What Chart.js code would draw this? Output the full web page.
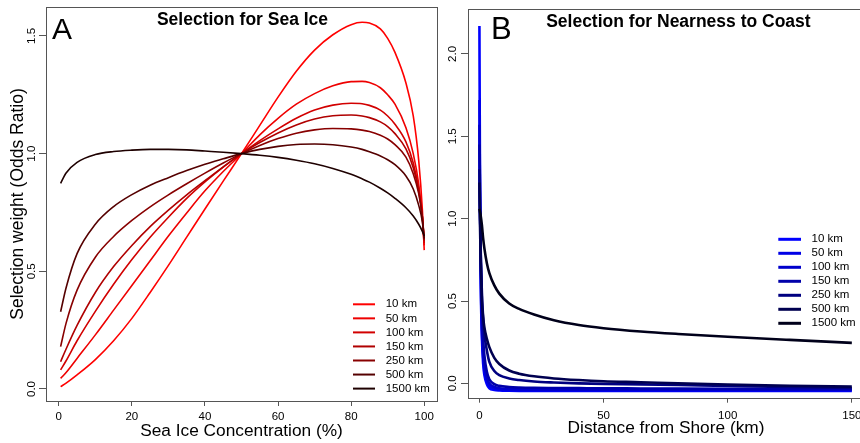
<!DOCTYPE html>
<html lang="en">

<head>
    <meta charset="UTF-8">
    <title>Selection for Sea Ice / Nearness to Coast</title>
    <script src="https://cdn.jsdelivr.net/npm/chart.js"></script>
    <style>
        html, body { margin: 0; padding: 0; background: #fff; overflow: hidden; }
        .painel { position: absolute; top: 0; height: 443px; }
        #painelA { left: 0; width: 440px; }
        #painelB { left: 440px; width: 430px; }
    </style>
</head>

<body>
    <div class="painel" id="painelA"><canvas id="gelo" width="440" height="443"></canvas></div>
    <div class="painel" id="painelB"><canvas id="costa" width="430" height="443"></canvas></div>
</body>

</html>
<script>
    // scales (legend labels), shared by both panels
    const escalas = ['10 km', '50 km', '100 km', '150 km', '250 km', '500 km', '1500 km'];
    const coresGelo = ['#ff0000', '#ee0000', '#d20000', '#b00000', '#880000', '#550000', '#1e0000'];
    const coresCosta = ['#0000ff', '#0000e6', '#0000cc', '#0000aa', '#000080', '#000050', '#00001a'];

    // panel A: sea ice concentration (%)
    const gelo = [0.5, 2, 5, 10, 15, 20, 25, 30, 35, 40, 45, 50, 55, 60, 65, 70, 75, 80, 83, 85, 88, 90, 92, 95, 97, 98.5, 99.5, 100];
    const gelo10 = [0.01, 0.025, 0.06, 0.125, 0.205, 0.3, 0.41, 0.525, 0.645, 0.765, 0.883, 1.0, 1.12, 1.24, 1.35, 1.44, 1.505, 1.548, 1.558, 1.555, 1.53, 1.49, 1.43, 1.3, 1.16, 0.97, 0.76, 0.59];
    const gelo50 = [0.045, 0.07, 0.13, 0.23, 0.335, 0.44, 0.545, 0.65, 0.748, 0.842, 0.924, 1.0, 1.08, 1.15, 1.21, 1.255, 1.288, 1.306, 1.307, 1.302, 1.28, 1.25, 1.21, 1.11, 1.0, 0.87, 0.72, 0.61];
    const gelo100 = [0.081, 0.12, 0.205, 0.33, 0.445, 0.55, 0.645, 0.73, 0.81, 0.88, 0.943, 1.0, 1.055, 1.105, 1.15, 1.185, 1.206, 1.214, 1.212, 1.205, 1.185, 1.16, 1.125, 1.05, 0.96, 0.85, 0.73, 0.62];
    const gelo150 = [0.116, 0.17, 0.27, 0.41, 0.52, 0.61, 0.69, 0.76, 0.825, 0.885, 0.944, 1.0, 1.047, 1.088, 1.122, 1.147, 1.161, 1.164, 1.16, 1.153, 1.135, 1.115, 1.085, 1.02, 0.94, 0.84, 0.73, 0.63];
    const gelo250 = [0.18, 0.28, 0.42, 0.56, 0.648, 0.716, 0.774, 0.825, 0.872, 0.917, 0.96, 1.0, 1.035, 1.064, 1.087, 1.101, 1.107, 1.105, 1.1, 1.094, 1.078, 1.062, 1.038, 0.985, 0.915, 0.83, 0.73, 0.635];
    const gelo500 = [0.328, 0.43, 0.575, 0.7, 0.775, 0.826, 0.866, 0.898, 0.928, 0.955, 0.978, 1.0, 1.018, 1.031, 1.039, 1.041, 1.038, 1.028, 1.018, 1.008, 0.99, 0.974, 0.953, 0.905, 0.85, 0.78, 0.71, 0.64];
    const gelo1500 = [0.874, 0.918, 0.963, 0.996, 1.009, 1.015, 1.018, 1.018, 1.016, 1.011, 1.006, 1.0, 0.993, 0.984, 0.972, 0.957, 0.937, 0.912, 0.893, 0.879, 0.853, 0.833, 0.81, 0.77, 0.735, 0.7, 0.67, 0.65];
    const ticksGeloX = [0, 20, 40, 60, 80, 100];
    const ticksGeloY = [0, 0.5, 1.0, 1.5];

    // panel B: distance from shore (km)
    const costa = [0, 0.25, 0.5, 1, 1.5, 2, 3, 4, 6, 8, 12, 16, 22, 30, 40, 50, 65, 80, 100, 125, 150];
    const costa10 = [2.17, 1.15, 0.65, 0.28, 0.12, 0.05, -0.005, -0.03, -0.04, -0.043, -0.045, -0.046, -0.046, -0.046, -0.046, -0.046, -0.046, -0.046, -0.046, -0.046, -0.046];
    const costa50 = [1.72, 1.1, 0.7, 0.32, 0.16, 0.08, 0.015, -0.015, -0.032, -0.037, -0.04, -0.041, -0.042, -0.042, -0.042, -0.042, -0.042, -0.042, -0.042, -0.042, -0.042];
    const costa100 = [1.57, 1.1, 0.75, 0.38, 0.2, 0.11, 0.035, 0.0, -0.022, -0.03, -0.034, -0.036, -0.037, -0.038, -0.038, -0.038, -0.038, -0.038, -0.038, -0.038, -0.038];
    const costa150 = [1.45, 1.1, 0.8, 0.45, 0.27, 0.17, 0.07, 0.025, -0.005, -0.015, -0.022, -0.025, -0.027, -0.028, -0.029, -0.03, -0.031, -0.032, -0.033, -0.034, -0.034];
    const costa250 = [1.3, 1.05, 0.82, 0.55, 0.4, 0.3, 0.2, 0.13, 0.075, 0.05, 0.03, 0.02, 0.011, 0.005, 0.0, -0.003, -0.006, -0.01, -0.016, -0.022, -0.028];
    const costa500 = [1.22, 0.95, 0.75, 0.5, 0.4, 0.34, 0.27, 0.22, 0.155, 0.118, 0.078, 0.059, 0.043, 0.03, 0.02, 0.013, 0.007, 0.0, -0.007, -0.014, -0.02];
    const costa1500 = [1.06, 1.04, 1.02, 0.96, 0.88, 0.82, 0.73, 0.67, 0.595, 0.545, 0.485, 0.452, 0.418, 0.383, 0.354, 0.335, 0.315, 0.3, 0.283, 0.264, 0.246];
    const ticksCostaX = [0, 50, 100, 150];
    const ticksCostaY = [0, 0.5, 1.0, 1.5, 2.0];

    const fonte = '"Liberation Sans", Arial, Helvetica, sans-serif';
    Chart.defaults.font.family = fonte;
    Chart.defaults.color = '#000';

    // box, rotated y labels, panel letter, title and legend (R style)
    const moldura = {
        id: 'moldura',
        afterDraw(chart, args, o) {
            const { ctx, chartArea: ca, scales } = chart;
            ctx.save();
            ctx.strokeStyle = '#555';
            ctx.lineWidth = 1;
            ctx.strokeRect(Math.round(ca.left) + 0.5, Math.round(ca.top) + 0.5,
                Math.round(ca.right - ca.left), Math.round(ca.bottom - ca.top));

            ctx.fillStyle = '#000';
            ctx.font = '11.5px ' + fonte;
            ctx.textAlign = 'center';
            ctx.textBaseline = 'middle';
            scales.y.ticks.forEach(t => {
                ctx.save();
                ctx.translate(o.rotuloY, scales.y.getPixelForValue(t.value));
                ctx.rotate(-Math.PI / 2);
                ctx.fillText(t.value.toFixed(1), 0, 0);
                ctx.restore();
            });

            ctx.textBaseline = 'alphabetic';
            ctx.textAlign = 'left';
            ctx.font = o.letraTam + 'px ' + fonte;
            ctx.fillText(o.letra, o.letraX, o.letraY);
            ctx.textAlign = 'center';
            ctx.font = 'bold 17.5px ' + fonte;
            ctx.fillText(o.titulo, o.tituloX, o.tituloY);

            ctx.textAlign = 'left';
            ctx.textBaseline = 'middle';
            ctx.font = '11.5px ' + fonte;
            chart.data.datasets.forEach((ds, i) => {
                const y = o.legY + i * o.legPasso;
                ctx.strokeStyle = ds.borderColor;
                ctx.lineWidth = o.legLargura;
                ctx.beginPath();
                ctx.moveTo(o.legX1, y);
                ctx.lineTo(o.legX2, y);
                ctx.stroke();
                ctx.fillText(ds.label, o.legTexto, y);
            });
            ctx.restore();
        }
    };

    function montarSeries(xs, series, cores, largura) {
        return series.map((ys, i) => ({
            label: escalas[i],
            data: xs.map((x, j) => ({ x: x, y: ys[j] })),
            borderColor: cores[i],
            borderWidth: largura,
            pointRadius: 0,
            fill: false,
            cubicInterpolationMode: 'monotone',
            order: series.length - i
        }));
    }

    function eixos(cfg) {
        return {
            x: {
                type: 'linear',
                min: cfg.xMin,
                max: cfg.xMax,
                afterBuildTicks: s => { s.ticks = cfg.ticksX.map(v => ({ value: v })); },
                afterFit: s => { s.height = cfg.alturaX; },
                border: { display: false },
                grid: { drawOnChartArea: false, tickLength: 5, color: '#555' },
                ticks: { font: { size: 11.5 }, padding: cfg.padX, maxRotation: 0, callback: v => String(v) },
                title: {
                    display: true,
                    text: cfg.tituloX,
                    font: { size: 17.3 },
                    padding: { top: 0, bottom: cfg.padTituloX }
                }
            },
            y: {
                type: 'linear',
                min: cfg.yMin,
                max: cfg.yMax,
                afterBuildTicks: s => { s.ticks = cfg.ticksY.map(v => ({ value: v })); },
                afterFit: s => { s.width = cfg.larguraY; },
                border: { display: false },
                grid: { drawOnChartArea: false, tickLength: 7, color: '#555' },
                ticks: { display: false },
                title: {
                    display: !!cfg.tituloY,
                    text: cfg.tituloY || '',
                    font: { size: 17.5 },
                    padding: { top: 7.5, bottom: 0 }
                }
            }
        };
    }

    new Chart(document.getElementById('gelo'), {
        type: 'line',
        data: {
            datasets: montarSeries(gelo, [gelo10, gelo50, gelo100, gelo150, gelo250, gelo500, gelo1500], coresGelo, 1.6)
        },
        options: {
            responsive: false,
            animation: false,
            layout: { padding: { left: 0, right: 3, top: 7, bottom: 0 } },
            scales: eixos({
                xMin: -3.5, xMax: 103.5, ticksX: ticksGeloX, alturaX: 42, padX: 3.8, tituloX: 'Sea Ice Concentration (%)', padTituloX: 1.2,
                yMin: -0.051, yMax: 1.623, ticksY: ticksGeloY, larguraY: 46, tituloY: 'Selection weight (Odds Ratio)'
            }),
            plugins: {
                legend: { display: false },
                tooltip: { enabled: false },
                moldura: {
                    rotuloY: 31.7,
                    letra: 'A', letraTam: 30, letraX: 52, letraY: 39,
                    titulo: 'Selection for Sea Ice', tituloX: 242.5, tituloY: 25,
                    legX1: 353, legX2: 375, legTexto: 385.7, legY: 304.3, legPasso: 14.05, legLargura: 2
                }
            }
        },
        plugins: [moldura]
    });

    new Chart(document.getElementById('costa'), {
        type: 'line',
        data: {
            datasets: montarSeries(costa, [costa10, costa50, costa100, costa150, costa250, costa500, costa1500], coresCosta, 2.6)
        },
        options: {
            responsive: false,
            animation: false,
            layout: { padding: { left: 0, right: 6, top: 9, bottom: 0 } },
            scales: eixos({
                xMin: -4.6, xMax: 154.9, ticksX: ticksCostaX, alturaX: 45.3, padX: 6.4, tituloX: 'Distance from Shore (km)', padTituloX: 4.6,
                yMin: -0.087, yMax: 2.273, ticksY: ticksCostaY, larguraY: 28
            }),
            plugins: {
                legend: { display: false },
                tooltip: { enabled: false },
                moldura: {
                    rotuloY: 13.3,
                    letra: 'B', letraTam: 31, letraX: 51, letraY: 39.3,
                    titulo: 'Selection for Nearness to Coast', tituloX: 238.4, tituloY: 26.7,
                    legX1: 338.3, legX2: 361, legTexto: 371.5, legY: 239.3, legPasso: 14, legLargura: 3
                }
            }
        },
        plugins: [moldura]
    });
</script>
